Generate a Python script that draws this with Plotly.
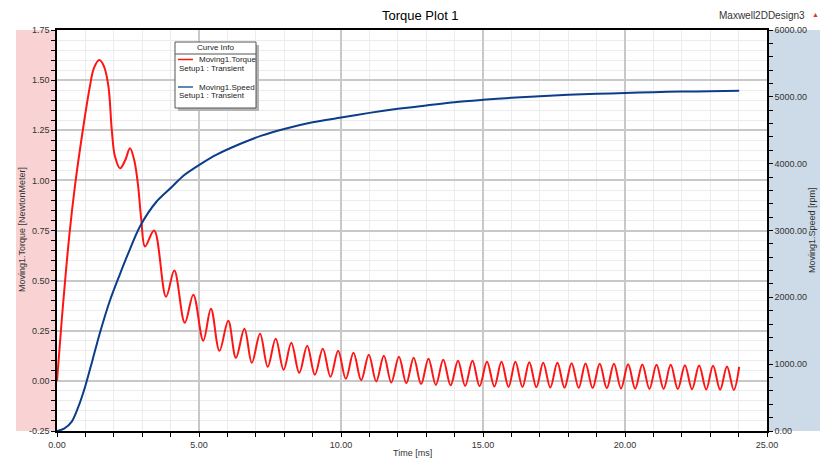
import plotly.graph_objects as go

# ---------------- data ----------------
torque_time = [0, 0.165, 0.43, 0.63, 0.93, 1.16, 1.3, 1.49, 1.65, 1.81, 1.93, 2.04,
               2.22, 2.4, 2.57, 2.72, 2.85, 2.97, 3.1, 3.42, 3.84, 4.13, 4.5, 4.8, 5.15, 5.42, 5.72,
               6.03, 6.3, 6.6, 6.86, 7.15, 7.42, 7.7, 7.98, 8.25, 8.53, 8.81, 9.08, 9.36, 9.63, 9.9,
               10.17, 10.44, 10.71, 10.98, 11.24, 11.51, 11.77, 12.04, 12.3, 12.56, 12.82, 13.08,
               13.34, 13.6, 13.86, 14.12, 14.37, 14.63, 14.88, 15.14, 15.4, 15.65, 15.9, 16.14,
               16.39, 16.63, 16.88, 17.12, 17.37, 17.62, 17.87, 18.12, 18.37, 18.61, 18.86, 19.11,
               19.36, 19.61, 19.86, 20.11, 20.36, 20.61, 20.86, 21.11, 21.36, 21.61, 21.86, 22.11,
               22.36, 22.61, 22.86, 23.10, 23.35, 23.59, 23.83, 24.02]
torque_value = [0.0, 0.30, 0.72, 0.97, 1.27, 1.47, 1.56, 1.60, 1.57, 1.47, 1.25, 1.12,
                1.06, 1.10, 1.16, 1.10, 0.98, 0.80, 0.67, 0.75, 0.42, 0.55, 0.29, 0.43, 0.20, 0.36, 0.15,
                0.30, 0.115, 0.26, 0.09, 0.235, 0.07, 0.21, 0.055, 0.19, 0.04, 0.175, 0.03, 0.16, 0.02, 0.15,
                0.01, 0.14, 0.003, 0.13, -0.003, 0.125, -0.008, 0.12, -0.012, 0.115, -0.016, 0.11,
                -0.02, 0.105, -0.022, 0.10, -0.025, 0.10, -0.027, 0.095, -0.028, 0.095, -0.03, 0.095,
                -0.03, 0.093, -0.032, 0.09, -0.033, 0.09, -0.034, 0.088, -0.035, 0.087, -0.036, 0.085,
                -0.037, 0.085, -0.038, 0.083, -0.039, 0.082, -0.04, 0.08, -0.04, 0.08, -0.041, 0.078,
                -0.042, 0.077, -0.043, 0.075, -0.044, 0.072, -0.045, 0.07]

speed_time = [0, 0.25, 0.52, 0.75, 0.99, 1.25, 1.51, 1.87, 2.2, 2.5, 2.92, 3.5, 4.04, 4.45, 5.04, 5.62,
              6.44, 7.2, 8.0, 9.0, 10.0, 11.0, 12.0, 13.0, 14.0, 15.0, 16.0, 17.0, 18.0, 19.0, 20.0,
              21.0, 22.0, 23.0, 24.02]
speed_value = [0, 35, 140, 360, 663, 1060, 1466, 1960, 2330, 2650, 3060, 3430, 3650, 3820, 3990, 4135,
               4294, 4420, 4520, 4620, 4690, 4760, 4820, 4870, 4920, 4955, 4985, 5010, 5030, 5045, 5058,
               5070, 5078, 5085, 5090]

x_ticks = [0, 5, 10, 15, 20, 25]
torque_ticks = [-0.25, 0, 0.25, 0.5, 0.75, 1.0, 1.25, 1.5, 1.75]
speed_ticks = [0, 1000, 2000, 3000, 4000, 5000, 6000]

# ---------------- geometry helpers (pixels -> paper) ----------------
W, H = 837, 466
L, R, T, B = 57, 767, 30, 431
def px(x):
    return (x - L) / (R - L)
def py(y):
    return (B - y) / (B - T)

RED = "#ff1414"
BLUE = "#0b3d8a"
TICKFONT = dict(family="Liberation Sans, Arial, sans-serif", size=9, color="#333333")

fig = go.Figure()
fig.add_trace(go.Scatter(x=torque_time, y=torque_value, mode="lines", name="Moving1.Torque",
                         line=dict(color=RED, width=2, shape="spline", smoothing=1.0),
                         yaxis="y", showlegend=False))
fig.add_trace(go.Scatter(x=speed_time, y=speed_value, mode="lines", name="Moving1.Speed",
                         line=dict(color=BLUE, width=2, shape="spline", smoothing=0.8),
                         yaxis="y2", showlegend=False))

fig.update_layout(
    width=W, height=H,
    margin=dict(l=L, r=W - R, t=T, b=H - B, pad=0, autoexpand=False),
    paper_bgcolor="white", plot_bgcolor="white",
    font=TICKFONT,
    xaxis=dict(range=[0, 25], tickvals=x_ticks, ticktext=[f"{v:.2f}" for v in x_ticks],
               ticks="outside", ticklen=4, tickwidth=1, tickcolor="black",
               showline=True, linecolor="black", linewidth=1.5, mirror=True,
               showgrid=True, gridcolor="#c8c8c8", gridwidth=1.5, zeroline=False,
               minor=dict(dtick=1, tick0=0, ticks="outside", ticklen=4, tickcolor="black",
                          showgrid=True, gridcolor="#ececec", gridwidth=1),
               tickfont=TICKFONT),
    yaxis=dict(range=[-0.25, 1.75], tickvals=torque_ticks, ticktext=[f"{v:.2f}" for v in torque_ticks],
               ticks="outside", ticklen=4, tickwidth=1, tickcolor="black",
               showline=True, linecolor="black", linewidth=1.5, mirror=True,
               showgrid=True, gridcolor="#c8c8c8", gridwidth=1.5, zeroline=False,
               minor=dict(dtick=0.05, tick0=0, ticks="outside", ticklen=4, tickcolor="black",
                          showgrid=True, gridcolor="#ececec", gridwidth=1),
               tickfont=TICKFONT),
    yaxis2=dict(range=[0, 6000], overlaying="y", side="right",
                tickvals=speed_ticks, ticktext=[f"{v:.2f}" for v in speed_ticks],
                ticks="outside", ticklen=4, tickwidth=1, tickcolor="black",
                showline=True, linecolor="black", linewidth=1.5,
                showgrid=False, zeroline=False,
                minor=dict(dtick=200, tick0=0, ticks="outside", ticklen=4, tickcolor="black"),
                tickfont=TICKFONT),
)

# coloured bands behind the axes
fig.add_shape(type="rect", xref="paper", yref="paper", x0=px(16), x1=0, y0=0, y1=1,
              fillcolor="#f9d3d4", line=dict(width=0), layer="below")
fig.add_shape(type="rect", xref="paper", yref="paper", x0=1, x1=px(820), y0=0, y1=1,
              fillcolor="#cddbe8", line=dict(width=0), layer="below")

def note(text, x, y, xanchor="center", font=TICKFONT, angle=0):
    fig.add_annotation(text=text, xref="paper", yref="paper", x=px(x), y=py(y),
                       xanchor=xanchor, yanchor="middle", showarrow=False,
                       textangle=angle, font=font, borderpad=0)

# titles
note("Torque Plot 1", 420, 16, font=dict(family="Liberation Sans, Arial", size=13, color="black"))
note("Maxwell2DDesign3", 806, 16, xanchor="right",
     font=dict(family="Liberation Sans, Arial", size=10, color="#333333"))
note("▲", 816, 14, font=dict(size=7, color="#e03030"))
note("Time [ms]", 412, 453)
note("Moving1.Torque [NewtonMeter]", 22, 230, angle=-90)
note("Moving1.Speed [rpm]", 812, 230, angle=-90)

# custom "Curve Info" legend box
LX0, LX1, LY0, LY1 = 175, 256, 42, 108
fig.add_shape(type="rect", xref="paper", yref="paper", x0=px(LX0 + 3), x1=px(LX1 + 3),
              y0=py(LY1 + 3), y1=py(LY0 + 3), fillcolor="#b4b4b4", line=dict(width=0))
fig.add_shape(type="rect", xref="paper", yref="paper", x0=px(LX0), x1=px(LX1),
              y0=py(LY1), y1=py(LY0), fillcolor="white", line=dict(color="#555555", width=1))
fig.add_shape(type="line", xref="paper", yref="paper", x0=px(LX0), x1=px(LX1),
              y0=py(54), y1=py(54), line=dict(color="#555555", width=1))
LFONT = dict(family="Liberation Sans, Arial", size=8, color="#222222")
note("Curve Info", 215.5, 48, font=LFONT)
fig.add_shape(type="line", xref="paper", yref="paper", x0=px(178), x1=px(193),
              y0=py(59.5), y1=py(59.5), line=dict(color=RED, width=1.5))
note("Moving1.Torque", 198, 59.5, xanchor="left", font=LFONT)
note("Setup1 : Transient", 178, 68.5, xanchor="left", font=LFONT)
fig.add_shape(type="line", xref="paper", yref="paper", x0=px(178), x1=px(193),
              y0=py(87), y1=py(87), line=dict(color="#2f5c9c", width=1.5))
note("Moving1.Speed", 198, 87, xanchor="left", font=LFONT)
note("Setup1 : Transient", 178, 96, xanchor="left", font=LFONT)

fig.write_html("out.html", config={"displayModeBar": False},
               post_script="document.body.style.margin='0';document.body.style.padding='0';")
